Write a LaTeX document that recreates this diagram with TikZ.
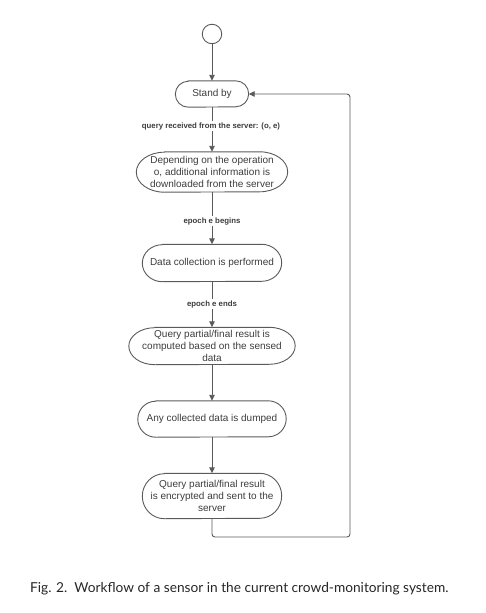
\documentclass[tikz,border=0pt]{standalone}
\usepackage{fontspec}
\setmainfont{Liberation Sans}
\newfontfamily\capfont{Lato}
\usetikzlibrary{arrows.meta}
\definecolor{linegray}{HTML}{5A5A5A}
\definecolor{textgray}{HTML}{3C3C3C}
\tikzset{
  stepnode/.style={font=\fontsize{10}{12}\selectfont, text=textgray, align=center, inner sep=0pt},
  edgelabel/.style={font=\fontsize{7.8}{9}\selectfont\bfseries, fill=white, inner sep=1.5pt, text=textgray},
  flow/.style={draw=linegray, line width=0.9pt, -{Triangle[length=6pt,width=5.5pt]}},
  shapeline/.style={draw=linegray, line width=0.9pt},
}
\newcommand\capsule[3]{%
  \draw[shapeline] ([xshift=#2]#1.north west) -- ([xshift=-#2]#1.north east)
    arc[start angle=90,end angle=-90,x radius=#2,y radius=#3]
    -- ([xshift=#2]#1.south west)
    arc[start angle=270,end angle=90,x radius=#2,y radius=#3] -- cycle;}
\begin{document}
\begin{tikzpicture}[x=1pt,y=1pt]
\useasboundingbox (0,0) rectangle (486,-613);
\node[shapeline, circle, minimum size=19.5pt, inner sep=0pt, draw] (start) at (212,-34) {};
\node[stepnode, minimum width=73pt, minimum height=26pt] (standby) at (212,-94) {Stand by};
\node[stepnode, minimum width=151pt, minimum height=40pt] (download) at (212,-172) {Depending on the operation\\o, additional information is\\downloaded from the server};
\node[stepnode, minimum width=139pt, minimum height=37pt] (collect) at (212,-263) {Data collection is performed};
\node[stepnode, minimum width=166pt, minimum height=37pt] (compute) at (212,-346) {Query partial/final result is\\computed based on the sensed\\data};
\node[stepnode, minimum width=148pt, minimum height=36pt] (dump) at (212,-419) {Any collected data is dumped};
\node[stepnode, minimum width=139pt, minimum height=45pt] (send) at (212,-496) {Query partial/final result\\is encrypted and sent to the\\server};
\capsule{standby}{13pt}{13pt}
\capsule{download}{28pt}{20pt}
\capsule{collect}{20pt}{18.5pt}
\capsule{compute}{26pt}{18.5pt}
\capsule{dump}{18pt}{18pt}
\capsule{send}{22pt}{22.5pt}
\coordinate (c2) at (350,-537);
\coordinate (c3) at (350,-94);
\draw[flow] (start) -- (standby);
\draw[flow] (standby) -- (download);
\draw[flow] (download) -- (collect);
\draw[flow] (collect) -- (compute);
\draw[flow] (compute) -- (dump);
\draw[flow] (dump) -- (send);
\draw[flow, rounded corners=3pt] (send.south) |- (c2) -- (c3) -- (standby.east);
\node[edgelabel] (lq) at (211,-126) {query received from the server: (o, e)};
\node[edgelabel] (lb) at (212,-221) {epoch e begins};
\node[edgelabel] (le) at (212,-304) {epoch e ends};
\node[anchor=base west, inner sep=0pt, font=\capfont\fontsize{13.7}{15}\selectfont, text=black!85] (cap) at (30,-592) {Fig. 2.\ \ Workflow of a sensor in the current crowd-monitoring system.};
\end{tikzpicture}
\end{document}
